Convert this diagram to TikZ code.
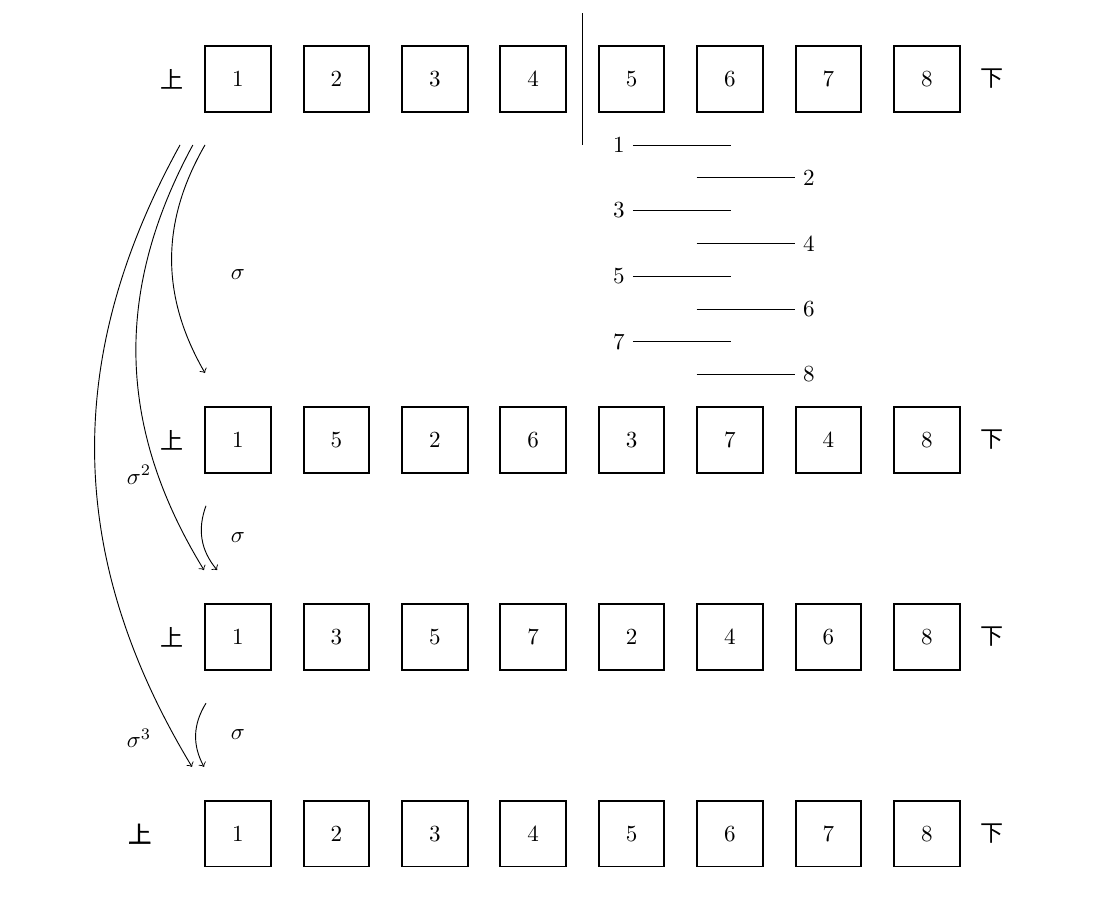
\documentclass[tikz,border=0pt]{standalone}
\usepackage{fontspec}
\usetikzlibrary{calc}
\newfontfamily\cjk{Noto Sans CJK SC}
\newfontfamily\cjkb[FakeBold=2]{Noto Sans CJK SC}
\begin{document}
\begin{tikzpicture}[
  cell/.style={draw, thick, minimum size=1cm, inner sep=0pt},
  side/.style={font=\cjk},
  sideb/.style={font=\cjkb},
  arr/.style={->, thin, bend right=30},
  pairline/.style={thin},
  lab/.style={inner sep=0.333em}
]
\useasboundingbox (0,0) rectangle (16.860,-13.720);
% rows of boxes
\foreach \row/\y/\lst in {1/-1.204/{1,2,3,4,5,6,7,8},
                          2/-6.707/{1,5,2,6,3,7,4,8},
                          3/-9.710/{1,3,5,7,2,4,6,8},
                          4/-12.710/{1,2,3,4,5,6,7,8}} {
  \foreach \v [count=\i] in \lst {
    \node[cell] (r\row c\i) at ({3.628+1.5*(\i-1)}, \y) {\v};
  }
}
% side labels
\node[side] (up1) at (2.628,-1.204) {上};
\node[side] (up2) at (2.628,-6.707) {上};
\node[side] (up3) at (2.628,-9.710) {上};
\node[sideb] (up4) at (2.130,-12.710) {上};
\node[side] (dn1) at (15.128,-1.204) {下};
\node[side] (dn2) at (15.128,-6.707) {下};
\node[side] (dn3) at (15.128,-9.710) {下};
\node[side] (dn4) at (15.128,-12.710) {下};
% divider
\coordinate (vt) at (8.878,-0.20);
\coordinate (vb) at (8.878,-2.21);
\draw[semithick] (vt) -- (vb);
% pairing lines
\foreach \k in {1,3,5,7} {
  \node[lab] (p\k) at (9.436,{-2.21-0.5*(\k-1)}) {\k};
  \draw[pairline] (p\k.east) -- ++(1.5,0) coordinate (pe\k);
}
\foreach \k in {2,4,6,8} {
  \node[lab] (p\k) at (12.33,{-2.21-0.5*(\k-1)}) {\k};
  \coordinate (ps\k) at ($(p\k.west)+(-1.5,0)$);
  \draw[pairline] (ps\k) -- (p\k.west);
}
% arrows
\coordinate (a1s) at (3.125,-2.21);  \coordinate (a1e) at (3.125,-5.686);
\coordinate (a2s) at (2.94,-2.21);   \coordinate (a2e) at (3.11,-8.69);
\coordinate (a3s) at (2.744,-2.21);  \coordinate (a3e) at (2.927,-11.69);
\coordinate (a4s) at (3.14,-7.71);   \coordinate (a4e) at (3.31,-8.69);
\coordinate (a5s) at (3.14,-10.72);  \coordinate (a5e) at (3.11,-11.69);
\draw[arr] (a1s) to (a1e);
\draw[arr] (a2s) to (a2e);
\draw[arr] (a3s) to (a3e);
\draw[arr] (a4s) to (a4e);
\draw[arr] (a5s) to (a5e);
% arrow labels
\node (s1) at (3.628,-4.19) {$\sigma$};
\node (s2) at (3.628,-8.20) {$\sigma$};
\node (s3) at (3.628,-11.20) {$\sigma$};
\node (s4) at (2.12,-7.24) {$\sigma^2$};
\node (s5) at (2.12,-11.25) {$\sigma^3$};
\end{tikzpicture}
\end{document}
